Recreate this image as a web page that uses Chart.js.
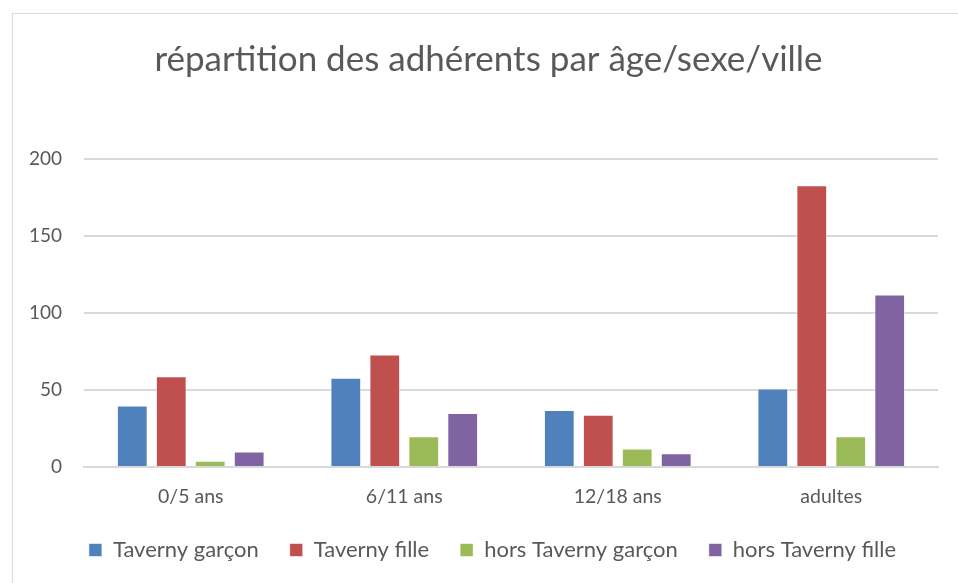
<!DOCTYPE html>
<html lang="fr">
<head>
    <meta charset="UTF-8">
    <title>répartition des adhérents</title>
    <script src="https://cdn.jsdelivr.net/npm/chart.js"></script>
    <style>
        html, body {
            margin: 0;
            padding: 0;
            background: #ffffff;
            overflow: hidden;
        }
        .frame {
            position: absolute;
            left: 12px;
            top: 13px;
            width: 960px;
            height: 590px;
            border: 1px solid #d9d9d9;
            background: #ffffff;
        }
        .chart-box {
            position: relative;
            width: 946px;
            height: 570px;
        }
    </style>
</head>
<body>
    <div class="frame">
        <div class="chart-box">
            <canvas id="ageChart"></canvas>
        </div>
    </div>

    <script>
        // categories and series
        const categories = ['0/5 ans', '6/11 ans', '12/18 ans', 'adultes'];
        const tavernyGarcon = [40, 58, 37, 51];
        const tavernyFille = [59, 73, 34, 183];
        const horsTavernyGarcon = [4, 20, 12, 20];
        const horsTavernyFille = [10, 35, 9, 112];
        const yTicks = [0, 50, 100, 150, 200];

        const textColor = '#595959';
        const gridColor = '#d9d9d9';
        const fontFamily = 'Lato, "Open Sans", sans-serif';

        function bars(label, data, color) {
            return {
                label: label,
                data: data,
                backgroundColor: color,
                borderColor: 'rgba(255,255,255,0.55)',
                borderWidth: 1,
                barPercentage: 0.79,
                categoryPercentage: 0.73
            };
        }

        // Excel centres title and legend on the whole frame, not only on the box right of the y axis
        const centreShift = {
            id: 'centreShift',
            afterLayout(chart) {
                if (chart.titleBlock) {
                    chart.titleBlock.left += 26;
                }
                if (chart.legend) {
                    chart.legend.left += 17;
                    chart.legend.right += 17;
                }
            }
        };

        const ctx = document.getElementById('ageChart').getContext('2d');
        const ageChart = new Chart(ctx, {
            type: 'bar',
            data: {
                labels: categories,
                datasets: [
                    bars('Taverny garçon', tavernyGarcon, '#4f81bd'),
                    bars('Taverny fille', tavernyFille, '#c0504d'),
                    bars('hors Taverny garçon', horsTavernyGarcon, '#9bbb59'),
                    bars('hors Taverny fille', horsTavernyFille, '#8064a2')
                ]
            },
            options: {
                responsive: true,
                maintainAspectRatio: false,
                animation: false,
                layout: {
                    padding: { top: 4, right: 21, bottom: 13, left: 0 }
                },
                plugins: {
                    title: {
                        display: true,
                        text: 'répartition des adhérents par âge/sexe/ville',
                        color: textColor,
                        font: { family: fontFamily, size: 35, weight: 'normal' },
                        padding: { top: 21, bottom: 78 }
                    },
                    legend: {
                        position: 'bottom',
                        labels: {
                            color: textColor,
                            font: { family: fontFamily, size: 22 },
                            boxWidth: 13,
                            boxHeight: 13,
                            padding: 31
                        }
                    },
                    tooltip: { enabled: false }
                },
                scales: {
                    x: {
                        grid: { display: false, drawTicks: false },
                        border: { display: true, color: gridColor, width: 2 },
                        ticks: {
                            color: textColor,
                            font: { family: fontFamily, size: 19.5 },
                            padding: 18
                        },
                        afterFit: function (scale) { scale.height = 41; }
                    },
                    y: {
                        min: 0,
                        max: 200,
                        afterBuildTicks: function (scale) {
                            scale.ticks = yTicks.map(v => ({ value: v }));
                        },
                        grid: { color: gridColor, lineWidth: 2, drawTicks: false },
                        border: { display: false },
                        ticks: {
                            color: textColor,
                            font: { family: fontFamily, size: 19 },
                            padding: 22
                        },
                        afterFit: function (scale) { scale.width = 71; }
                    }
                }
            },
            plugins: [centreShift]
        });
    </script>
</body>
</html>
